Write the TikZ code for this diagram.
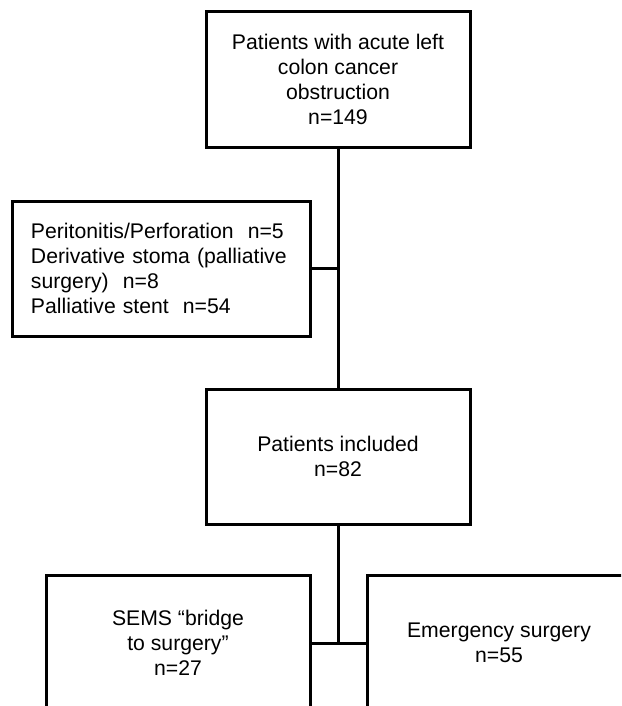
\documentclass[tikz,border=0pt]{standalone}
\usepackage{fontspec}
\setmainfont{Liberation Sans}
\begin{document}
\begin{tikzpicture}[x=0.5pt, y=-0.5pt, font=\fontsize{10.6}{12.6}\selectfont,
  box/.style={draw, line width=1.5pt, minimum width=132pt, minimum height=67.5pt, align=center, inner sep=0pt},
  link/.style={line width=1.5pt}]
\path[use as bounding box, clip] (0,0) rectangle (621,706);

\node[box] (top) at (338,79.5) {Patients with acute left\\colon cancer\\obstruction\\n=149};
\node[box, minimum width=149pt, text width=130pt, align=left] (excl) at (161,268.5)
  {Peritonitis/Perforation\ \ n=5\\Derivative stoma (palliative\\surgery)\ \ n=8\\Palliative stent\ \ n=54};
\node[box] (incl) at (338,456.5) {Patients included\\n=82};
\node[box, minimum height=68pt] (sems) at (178,643) {SEMS “bridge\\to surgery”\\n=27};
\node[box, minimum height=68pt] (emerg) at (499,643) {Emergency surgery\\n=55};

\draw[link] (top.south) -- (incl.north);
\draw[link] (excl.east) -- (excl.east -| top.south);
\draw[link] (incl.south) -- (incl.south |- sems.east);
\draw[link] (sems.east) -- (emerg.west);
\end{tikzpicture}
\end{document}
